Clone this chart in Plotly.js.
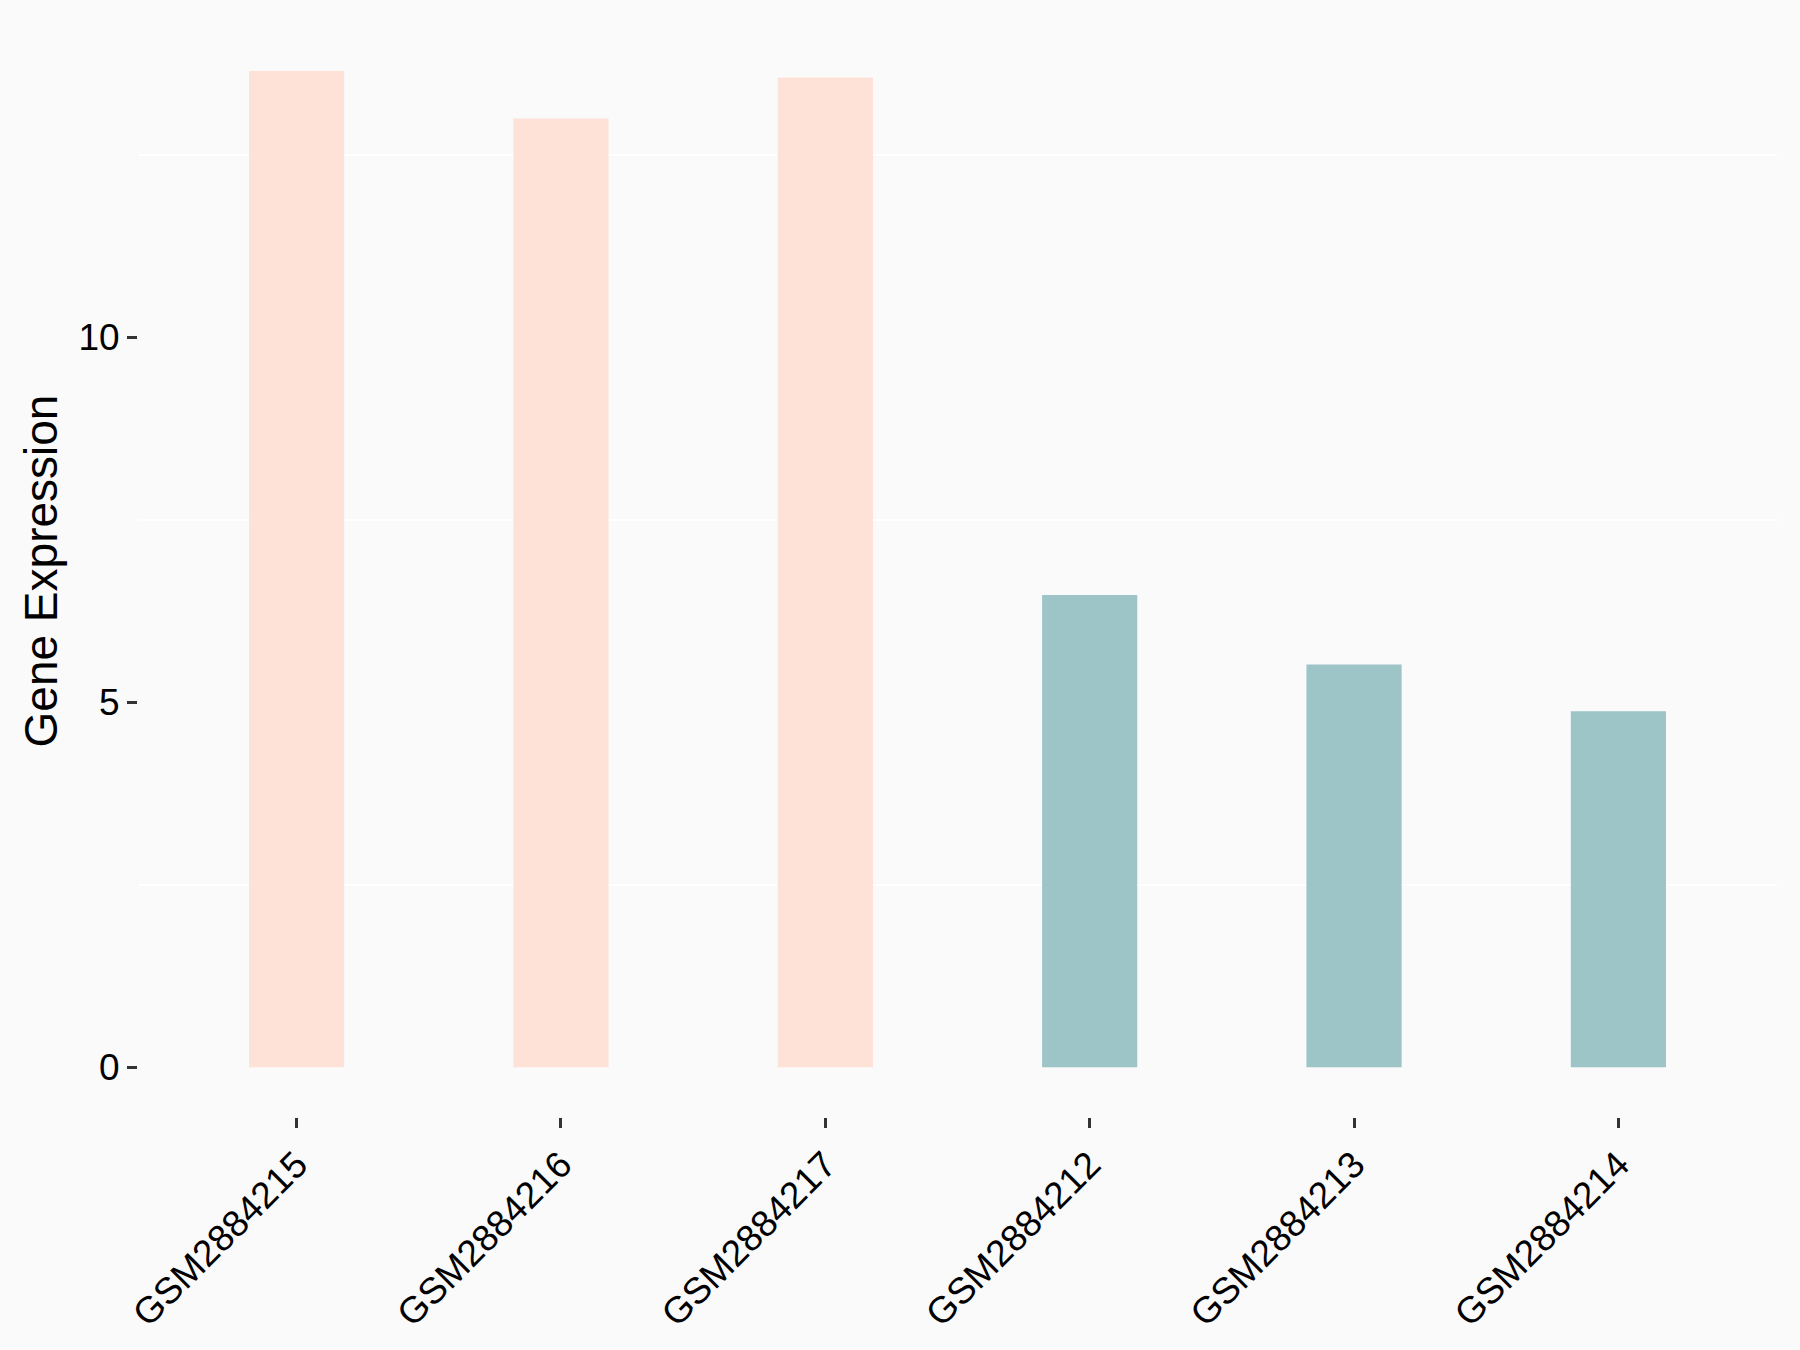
<!DOCTYPE html>
<html>
<head>
<meta charset="utf-8">
<script src="https://cdn.plot.ly/plotly-3.0.1.min.js"></script>
<style>html,body{margin:0;padding:0;background:#FAFAFA;}</style>
</head>
<body>
<div id="chart" style="width:1800px;height:1350px;"></div>
<script>
const samples = ["GSM2884215","GSM2884216","GSM2884217","GSM2884212","GSM2884213","GSM2884214"];
const expression = [13.65, 13.0, 13.56, 6.47, 5.52, 4.88];
const groupColors = ["#FEE1D7","#FEE1D7","#FEE1D7","#9DC4C7","#9DC4C7","#9DC4C7"];
const yTicks = [0, 5, 10];

const font = "Liberation Sans, Arial, sans-serif";
Plotly.newPlot("chart", [{
  type: "bar",
  x: samples,
  y: expression,
  width: 0.36,
  marker: {color: groupColors, line: {width: 0}},
  hoverinfo: "x+y"
}], {
  width: 1800, height: 1350,
  paper_bgcolor: "#FAFAFA", plot_bgcolor: "#FAFAFA",
  margin: {l: 138, r: 23, t: 25, b: 233},
  showlegend: false,
  font: {family: font, color: "#000"},
  xaxis: {
    type: "category",
    range: [-0.6, 5.6],
    showgrid: false, zeroline: false, showline: false,
    ticks: "outside", ticklen: 10, tickwidth: 3, tickcolor: "#333",
    tickangle: -45,
    tickfont: {family: font, size: 37, color: "#000"}
  },
  yaxis: {
    range: [-0.68, 14.28],
    tickvals: yTicks, ticktext: yTicks.map(String),
    showgrid: false, zeroline: false, showline: false,
    ticks: "outside", ticklen: 10, tickwidth: 3, tickcolor: "#333",
    tickfont: {family: font, size: 37, color: "#000"},
    minor: {tick0: 2.5, dtick: 5, showgrid: true, gridcolor: "#FFFFFF", gridwidth: 2, ticks: ""},
    title: {text: "Gene Expression", font: {family: font, size: 46, color: "#000"}, standoff: 6}
  }
}, {displayModeBar: false});
</script>
</body>
</html>
